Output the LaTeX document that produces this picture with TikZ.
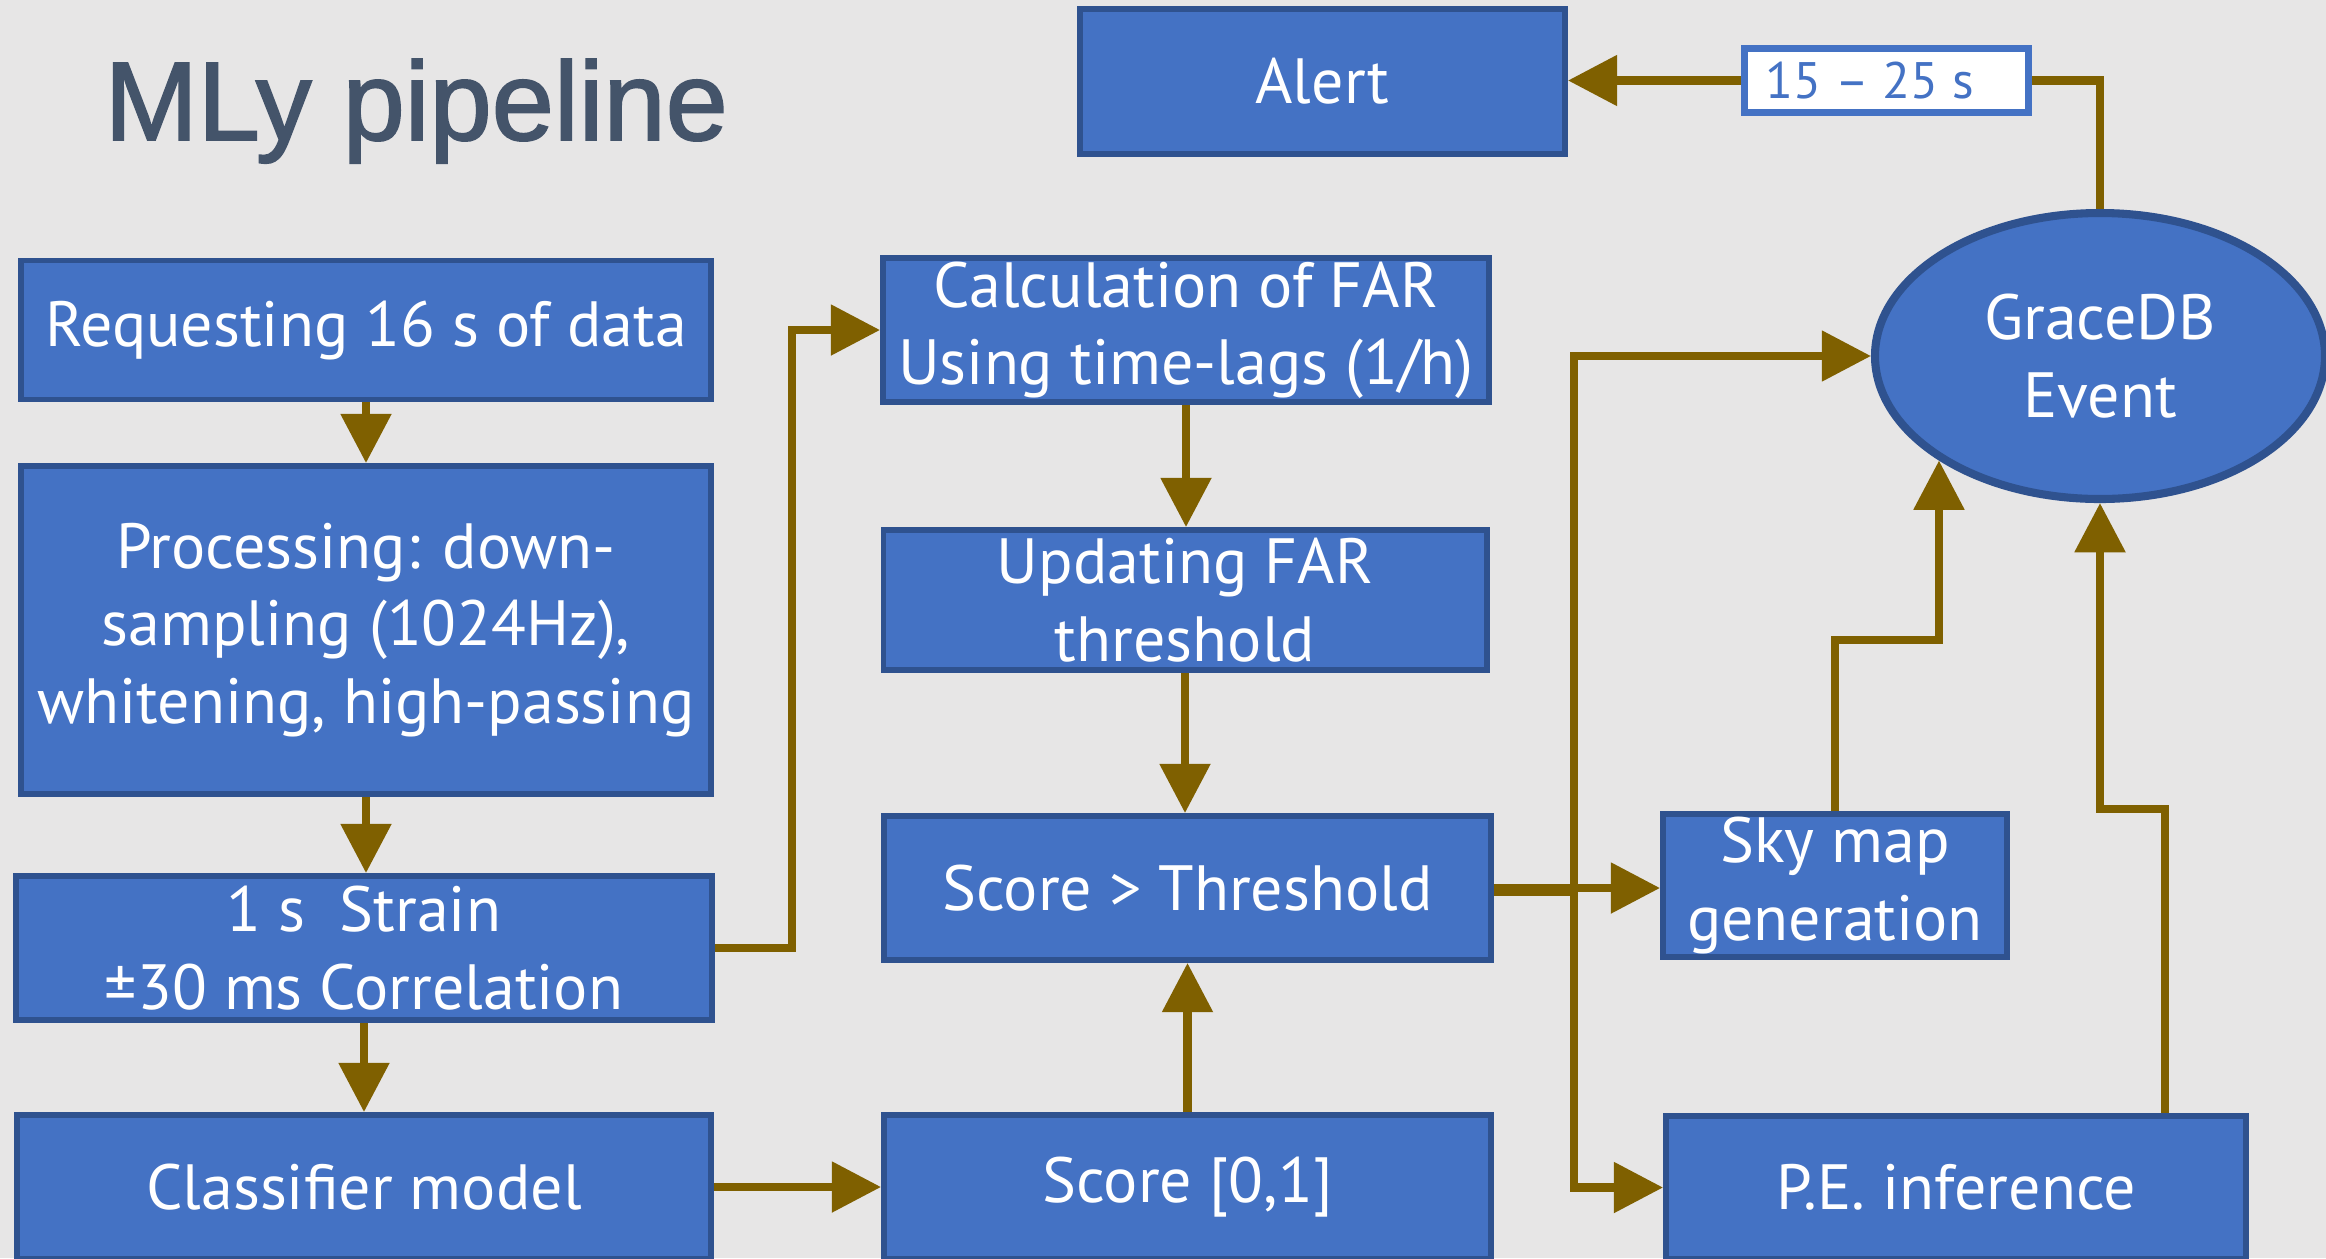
\documentclass[tikz,border=0pt]{standalone}
\usepackage{fontspec}
\setmainfont{PT Sans}
\newfontfamily\titlefont[FakeBold=1.6]{Liberation Sans}
\usetikzlibrary{arrows.meta,shapes.geometric}
\definecolor{boxblue}{HTML}{4472C4}
\definecolor{boxline}{HTML}{2F528F}
\definecolor{flowbrown}{HTML}{7F6000}
\definecolor{slide}{HTML}{E7E6E6}
\definecolor{titlegray}{HTML}{44546A}

\begin{document}
\begin{tikzpicture}[x=1cm,y=-1cm,
    box/.style={rectangle,draw=boxline,fill=boxblue,line width=1.7pt,text=white,
      align=center,inner sep=0pt,font=\fontsize{18.2}{22}\selectfont},
    wire/.style={draw=flowbrown,line width=2.3pt},
    flow/.style={wire,-{Triangle[length=14pt,width=14pt]}}]

        \fill[slide] (0,0) rectangle (23.26,12.58);
        \useasboundingbox (0,0) rectangle (23.26,12.58);

        \node[anchor=base west,text=titlegray,inner sep=0pt,
          font=\titlefont\fontsize{31.8}{36}\selectfont] (title) at (1.04,1.40) {MLy pipeline};

        \begin{scope}[every node/.style={box}]
          \node[minimum width=6.90cm,minimum height=1.39cm] (req)    at (3.66,3.30)   {Requesting 16 s of data};
          \node[minimum width=6.90cm,minimum height=3.28cm] (proc)   at (3.66,6.30)   {Processing: down-\\sampling (1024Hz),\\whitening, high-passing};
          \node[minimum width=6.96cm,minimum height=1.44cm] (strain) at (3.64,9.48)   {1 s~ Strain\\±30 ms Correlation};
          \node[minimum width=6.94cm,minimum height=1.44cm] (clf)    at (3.64,11.87)  {Classifier model};
          \node[minimum width=6.06cm,minimum height=1.44cm] (calc)   at (11.86,3.30)  {Calculation of FAR\\Using time-lags (1/h)};
          \node[minimum width=6.03cm,minimum height=1.40cm] (upd)    at (11.85,6.00)  {Updating FAR\\threshold};
          \node[minimum width=6.07cm,minimum height=1.44cm] (thr)    at (11.875,8.88) {Score > Threshold};
          \node[minimum width=6.07cm,minimum height=1.44cm] (score)  at (11.875,11.87) {Score [0,1]};
          \node[minimum width=4.85cm,minimum height=1.45cm] (alert)  at (13.225,0.815) {Alert};
          \node[minimum width=3.44cm,minimum height=1.43cm] (sky)    at (18.35,8.855) {Sky map\\generation};
          \node[minimum width=5.80cm,minimum height=1.43cm] (pe)     at (19.56,11.875) {P.E. inference};
          \node[ellipse,line width=2.3pt,minimum width=4.50cm,minimum height=2.86cm] (grace) at (21.00,3.56) {GraceDB\\Event};
          \node[fill=white,draw=boxblue,text=boxblue,line width=2pt,font=\fontsize{14.6}{16}\selectfont,
            minimum width=2.84cm,minimum height=0.64cm] (lag) at (18.865,0.805) {15 – 25 s\hspace*{0.33cm}};
        \end{scope}

        \coordinate (split) at (15.74,8.92);

        \begin{scope}
          \draw[flow] (req) -- (proc);
          \draw[flow] (proc) -- (proc |- strain.north);
          \draw[flow] (strain) -- (strain |- clf.north);
          \draw[flow] (strain.east) -- ++(0.77,0) |- (calc.west);
          \draw[flow] (clf) -- (score);
          \draw[flow] (score) -- (thr);
          \draw[flow] (calc) -- (calc |- upd.north);
          \draw[flow] (upd) -- (upd |- thr.north);
          \draw[wire] (thr.east |- split) -- (split);
          \draw[flow] (thr.east) -- (thr.east -| sky.west);
          \draw[flow] (split) |- (grace.west);
          \draw[flow] (split) |- (pe.west);
          \draw[flow] (sky.north) -- ++(0,-1.71) -| (grace.213.6);
          \draw[flow] ([xshift=2.09cm]pe.north) -- ++(0,-3.04) -| (grace.south);
          \draw[wire] (grace.north) |- (lag.east);
          \draw[flow] (lag.west) -- (lag.west -| alert.east);
        \end{scope}

      \end{tikzpicture}
\end{document}
